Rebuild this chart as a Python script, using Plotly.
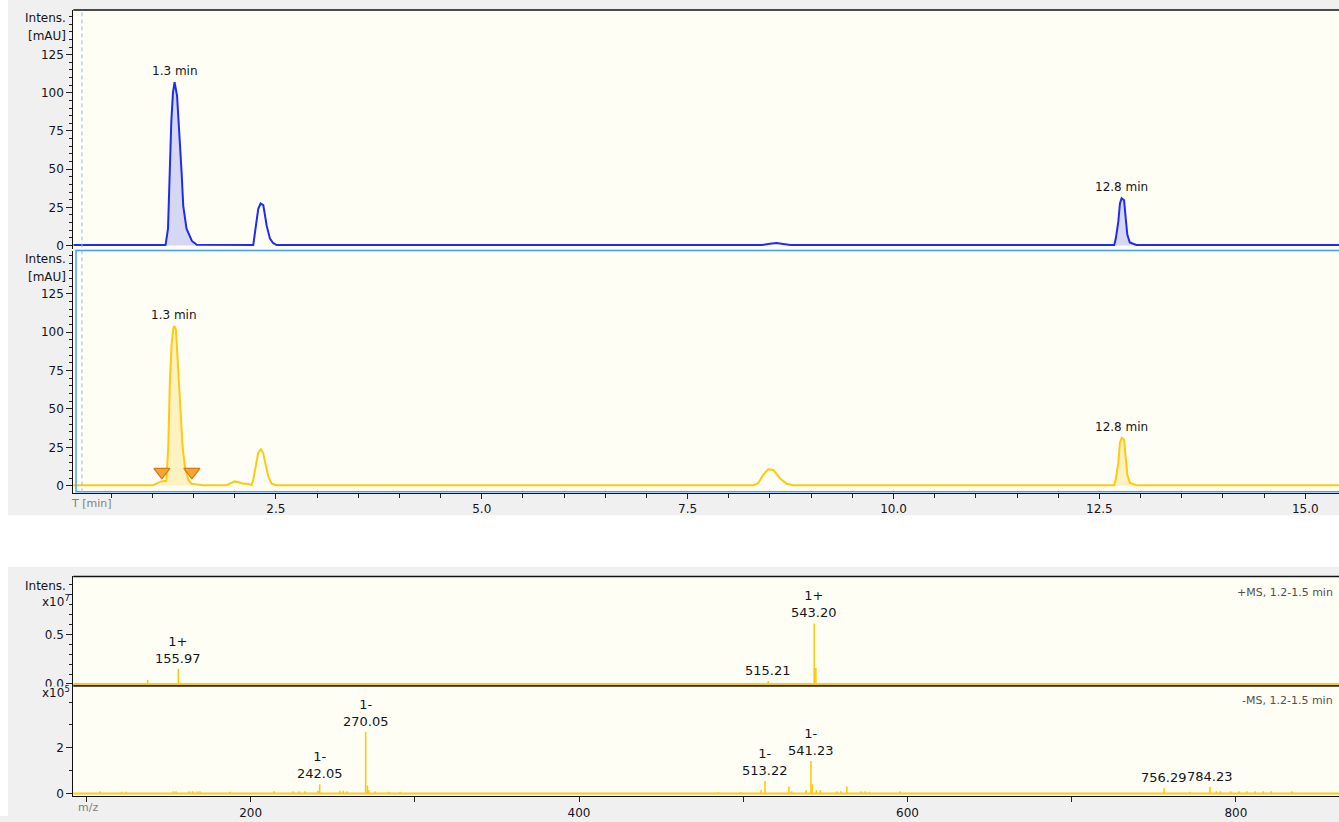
import plotly.graph_objects as go

# ---------------- chromatograms (time in min, intensity in mAU) ----------------
uv_top_time = [0.04, 1.16, 1.19, 1.21, 1.23, 1.25, 1.27, 1.30, 1.32, 1.355, 1.375, 1.415, 1.48, 1.54,
               2.225, 2.246, 2.266, 2.286, 2.315, 2.347, 2.367, 2.388, 2.428, 2.468, 2.51,
               8.40, 8.50, 8.58, 8.66, 8.75,
               12.68, 12.70, 12.73, 12.75, 12.77, 12.80, 12.82, 12.84, 12.87, 12.95, 15.41]
uv_top_int = [0.3, 0.3, 11, 55, 81, 100, 107, 98, 81, 48, 26, 11, 3, 0.5,
              0.3, 8, 18, 24, 27.5, 26.5, 20, 13, 4.5, 1.5, 0.3,
              0.3, 1.2, 1.6, 1.0, 0.3,
              0.3, 4.7, 15.6, 27.5, 31, 29.7, 17.8, 7, 2, 0.3, 0.3]

uv_bot_time = [0.04, 1.01, 1.05, 1.11, 1.17, 1.193, 1.213, 1.234, 1.253, 1.266, 1.286, 1.307, 1.326,
               1.347, 1.367, 1.395, 1.436, 1.477, 1.58, 1.62,
               1.90, 1.96, 2.00, 2.05, 2.10, 2.16,
               2.205, 2.225, 2.254, 2.286, 2.318, 2.347, 2.376, 2.408, 2.448, 2.51,
               8.297, 8.358, 8.419, 8.479, 8.54, 8.621, 8.703, 8.783,
               12.68, 12.70, 12.73, 12.75, 12.77, 12.80, 12.82, 12.84, 12.87, 12.95, 15.41]
uv_bot_int = [0.3, 0.3, 1.3, 2.8, 3.2, 25.4, 68.5, 92.2, 101.9, 104.1, 101.9, 83.6, 62.1,
              42.7, 25.4, 12.5, 3.9, 1.3, 0.8, 0.3,
              0.3, 1.8, 2.8, 2.2, 1.3, 1.3,
              0.5, 3.9, 11.4, 21.5, 23.7, 21.1, 13.6, 6.0, 1.3, 0.3,
              0.3, 1.7, 7.1, 10.7, 10.3, 4.9, 1.3, 0.3,
              0.3, 4.5, 15.0, 28.0, 31.2, 30.0, 18.0, 7.0, 2.0, 0.3, 0.3]

# integrated peak windows (min)
top_windows = [(1.16, 1.54), (12.68, 12.95)]
bot_windows = [(1.11, 1.48), (12.68, 12.95)]
# integration start / end markers on the lower trace
integ_time = [1.116, 1.48]
integ_int = [9, 9]

# ---------------- mass spectra ----------------
pos_mz = [95.0, 137.3, 155.97, 157.0, 515.21, 543.20, 544.2]
pos_int = [0.01, 0.04, 0.15, 0.015, 0.03, 0.61, 0.16]          # x10^7
pos_labeled = [155.97, 515.21, 543.20]
pos_charge = ["1+", "", "1+"]

neg_mz = [108.2, 121.4, 124.1, 152.9, 154.5, 162.6, 164.7, 167.5, 169.1, 187.4, 214.2, 225.9, 229.6,
          233.1, 241.0, 242.05, 254.4, 256.4, 258.8, 270.05, 271.1, 272.0, 276.0, 284.0, 291.0,
          484.8, 498.5, 510.9, 513.22, 527.8, 529.5, 538.2, 541.23, 542.0, 544.5, 547.0, 556.9,
          559.4, 563.1, 571.8, 574.3, 576.8, 595.4, 756.29, 771.9, 784.23, 788.1, 790.6, 796.8,
          801.8, 806.7, 811.7, 816.7, 821.6, 834.0]
neg_int = [0.1, 0.08, 0.08, 0.1, 0.1, 0.1, 0.1, 0.1, 0.1, 0.08, 0.1, 0.1, 0.1,
           0.1, 0.12, 0.4, 0.12, 0.12, 0.1, 2.7, 0.35, 0.15, 0.1, 0.08, 0.08,
           0.05, 0.05, 0.15, 0.55, 0.3, 0.1, 0.15, 1.42, 0.4, 0.15, 0.15, 0.1,
           0.1, 0.3, 0.1, 0.1, 0.08, 0.1, 0.23, 0.08, 0.29, 0.1, 0.1, 0.1,
           0.1, 0.1, 0.1, 0.1, 0.1, 0.1]                                 # x10^5
neg_labeled = [242.05, 270.05, 513.22, 541.23, 756.29, 784.23]
neg_charge = ["1-", "1-", "1-", "1-", "", ""]

# ---------------- page geometry ----------------
W, H = 1339, 822
def px(x):
    return x / W
def py(y):
    return 1 - y / H

FONT = "DejaVu Sans"
TXT = "#141420"
BLUE = "#1d2bf5"
BLUE_FILL = "#d6d7f2"
YEL = "#ffc90e"
YEL_FILL = "#fff2c2"
GRAY_BG = "#f0f0f0"
PLOT_BG = "#fffef5"

X_LEFT = px(73.3)


def window(t, v, lo, hi):
    pts = [(a, b) for a, b in zip(t, v) if lo <= a <= hi]
    return [p[0] for p in pts], [p[1] for p in pts]


def sticks(mz, inten):
    xs, ys = [], []
    for m, h in zip(mz, inten):
        xs += [m, m, None]
        ys += [0, h, None]
    return xs, ys


fig = go.Figure()

# chromatogram fills + lines
for lo, hi in top_windows:
    wx, wy = window(uv_top_time, uv_top_int, lo, hi)
    fig.add_trace(go.Scatter(x=wx, y=wy, xaxis="x", yaxis="y", mode="lines", fill="tozeroy",
                             fillcolor=BLUE_FILL, line=dict(width=0), hoverinfo="skip"))
fig.add_trace(go.Scatter(x=uv_top_time, y=uv_top_int, xaxis="x", yaxis="y", mode="lines",
                         line=dict(color=BLUE, width=2)))

for lo, hi in bot_windows:
    wx, wy = window(uv_bot_time, uv_bot_int, lo, hi)
    fig.add_trace(go.Scatter(x=wx, y=wy, xaxis="x2", yaxis="y2", mode="lines", fill="tozeroy",
                             fillcolor=YEL_FILL, line=dict(width=0), hoverinfo="skip"))
fig.add_trace(go.Scatter(x=uv_bot_time, y=uv_bot_int, xaxis="x2", yaxis="y2", mode="lines",
                         line=dict(color=YEL, width=2)))
fig.add_trace(go.Scatter(x=integ_time, y=integ_int, xaxis="x2", yaxis="y2", mode="markers",
                         marker=dict(symbol="triangle-down", size=14, color="#f5a531",
                                     line=dict(color="#d5780f", width=1.2))))

# mass spectra sticks
sx, sy = sticks(pos_mz, pos_int)
fig.add_trace(go.Scatter(x=sx, y=sy, xaxis="x3", yaxis="y3", mode="lines",
                         line=dict(color=YEL, width=1.6)))
sx, sy = sticks(neg_mz, neg_int)
fig.add_trace(go.Scatter(x=sx, y=sy, xaxis="x4", yaxis="y4", mode="lines",
                         line=dict(color=YEL, width=1.6)))

tickfont = dict(family=FONT, size=12, color=TXT)


def yaxis(domain, rng, anchor, vals, texts, minor_dtick):
    return dict(domain=domain, range=rng, anchor=anchor, tickmode="array", tickvals=vals,
                ticktext=texts, ticks="outside", ticklen=6, tickwidth=1, tickcolor="#222",
                showline=True, linecolor="#111", linewidth=1, showgrid=False, zeroline=False,
                tickfont=tickfont, fixedrange=True,
                minor=dict(tickmode="linear", tick0=0, dtick=minor_dtick, ticks="outside",
                           ticklen=3, tickcolor="#222", showgrid=False))


chrom_range = [0.04, 15.41]
ms_range = [92, 862.8]
chrom_vals = [0, 25, 50, 75, 100, 125]

fig.update_layout(
    width=W, height=H, margin=dict(l=0, r=0, t=0, b=0),
    paper_bgcolor=GRAY_BG, plot_bgcolor=PLOT_BG, showlegend=False,
    font=dict(family=FONT, size=12, color=TXT),
    xaxis=dict(domain=[X_LEFT, 1], range=chrom_range, anchor="y", showticklabels=False,
               ticks="", showline=False, showgrid=False, zeroline=False),
    yaxis=yaxis([py(251), py(10)], [-2.4, 154.3], "x", chrom_vals, [str(v) for v in chrom_vals], 5),
    xaxis2=dict(domain=[X_LEFT, 1], range=chrom_range, anchor="y2", tickmode="array",
                tickvals=[2.5, 5, 7.5, 10, 12.5, 15], tickformat=".1f", ticks="outside",
                ticklen=5, tickcolor="#222", showline=True, linecolor="#111", linewidth=1,
                showgrid=False, zeroline=False, tickfont=tickfont,
                minor=dict(tickmode="linear", tick0=0, dtick=0.5, ticks="outside", ticklen=4,
                           tickcolor="#222", showgrid=False)),
    yaxis2=yaxis([py(496.7), py(253.3)], [-4.8, 152.6], "x2", chrom_vals,
                 [str(v) for v in chrom_vals], 5),
    xaxis3=dict(domain=[X_LEFT, 1], range=ms_range, anchor="y3", showticklabels=False,
                ticks="", showline=False, showgrid=False, zeroline=False),
    yaxis3=yaxis([py(690.7), py(580.7)], [-0.017, 1.083], "x3", [0, 0.5], ["0.0", "0.5"], 0.1),
    xaxis4=dict(domain=[X_LEFT, 1], range=ms_range, anchor="y4", tickmode="array",
                tickvals=[200, 400, 600, 800], ticks="outside", ticklen=5, tickcolor="#222",
                showline=True, linecolor="#111", linewidth=1, showgrid=False, zeroline=False,
                tickfont=tickfont,
                minor=dict(tickmode="linear", tick0=0, dtick=100, ticks="outside", ticklen=5,
                           tickcolor="#222", showgrid=False)),
    yaxis4=yaxis([py(802.3), py(690.7)], [-0.13, 4.72], "x4", [0, 2], ["0", "2"], 1),
)

shapes = [
    # white page areas around the two grey panels
    dict(type="rect", xref="paper", yref="paper", x0=0, x1=px(8), y0=0, y1=1,
         fillcolor="white", line=dict(width=0), layer="below"),
    dict(type="rect", xref="paper", yref="paper", x0=0, x1=1, y0=py(571), y1=py(519),
         fillcolor="white", line=dict(width=0), layer="below"),
    # frame lines
    dict(type="line", xref="paper", yref="paper", x0=X_LEFT, x1=1, y0=py(10), y1=py(10),
         line=dict(color="#111", width=1.5)),
    dict(type="rect", xref="paper", yref="paper", x0=px(76), x1=1.02, y0=py(495.3), y1=py(252.3),
         line=dict(color="#4aa0f8", width=1.5)),
    dict(type="line", xref="x", yref="paper", x0=0.145, x1=0.145, y0=py(496), y1=py(10),
         line=dict(color="#86bdf3", width=1, dash="4px,3px")),
    dict(type="line", xref="paper", yref="paper", x0=X_LEFT, x1=1, y0=py(580.7), y1=py(580.7),
         line=dict(color="#111", width=1.5)),
    dict(type="line", xref="paper", yref="paper", x0=X_LEFT, x1=1, y0=py(690.9), y1=py(690.9),
         line=dict(color="#222", width=2)),
    # spectrum baselines
    dict(type="line", xref="x3 domain", yref="y3", x0=0, x1=1, y0=0, y1=0,
         line=dict(color=YEL, width=2)),
    dict(type="line", xref="x4 domain", yref="y4", x0=0, x1=1, y0=0, y1=0,
         line=dict(color=YEL, width=2)),
    # lower half of the clipped "0.0" label
    dict(type="rect", xref="paper", yref="paper", x0=px(20), x1=px(72), y0=py(698), y1=py(691.5),
         fillcolor=GRAY_BG, line=dict(width=0), layer="above"),
]
fig.update_layout(shapes=shapes)

ann = []


def text(x, y, s, anchor="right", size=12, color=TXT, xref="paper", yref="paper", yanchor="middle"):
    ann.append(dict(x=x, y=y, xref=xref, yref=yref, text=s, showarrow=False, xanchor=anchor,
                    yanchor=yanchor, font=dict(family=FONT, size=size, color=color)))


# axis titles
text(px(68), py(18), "Intens.")
text(px(68), py(36), "[mAU]")
text(px(68), py(261), "Intens.")
text(px(68), py(279), "[mAU]")
text(px(68), py(590), "Intens.")
text(px(72), py(605), "x10<sup>7</sup>")
text(px(72), py(697), "x10<sup>5</sup>")
text(px(69), py(507), "T [min]", anchor="left", size=11, color="#808080")
text(px(76), py(813), "m/z", anchor="left", size=11, color="#808080")
text(px(1335), py(597), "+MS, 1.2-1.5 min", size=11, color="#505050")
text(px(1335), py(706), "-MS, 1.2-1.5 min", size=11, color="#505050")

# retention-time labels at the apex of each integrated peak
for t, v, wins, xr, yr in [(uv_top_time, uv_top_int, top_windows, "x", "y"),
                           (uv_bot_time, uv_bot_int, bot_windows, "x2", "y2")]:
    for lo, hi in wins:
        wx, wy = window(t, v, lo, hi)
        k = wy.index(max(wy))
        ann.append(dict(x=wx[k], y=wy[k], xref=xr, yref=yr, text=f"{wx[k]:.1f} min",
                        showarrow=False, xanchor="center", yanchor="bottom", yshift=2,
                        font=dict(family=FONT, size=12, color=TXT)))

# m/z labels
for mzs, ints, labeled, charges, xr, yr in [(pos_mz, pos_int, pos_labeled, pos_charge, "x3", "y3"),
                                            (neg_mz, neg_int, neg_labeled, neg_charge, "x4", "y4")]:
    for m, c in zip(labeled, charges):
        h = ints[mzs.index(m)]
        s = f"{c}<br>{m:.2f}" if c else f"{m:.2f}"
        ann.append(dict(x=m, y=h, xref=xr, yref=yr, text=s, showarrow=False, xanchor="center",
                        yanchor="bottom", yshift=1, font=dict(family=FONT, size=13, color=TXT)))

fig.update_layout(annotations=ann)

fig.write_html("out.html")
